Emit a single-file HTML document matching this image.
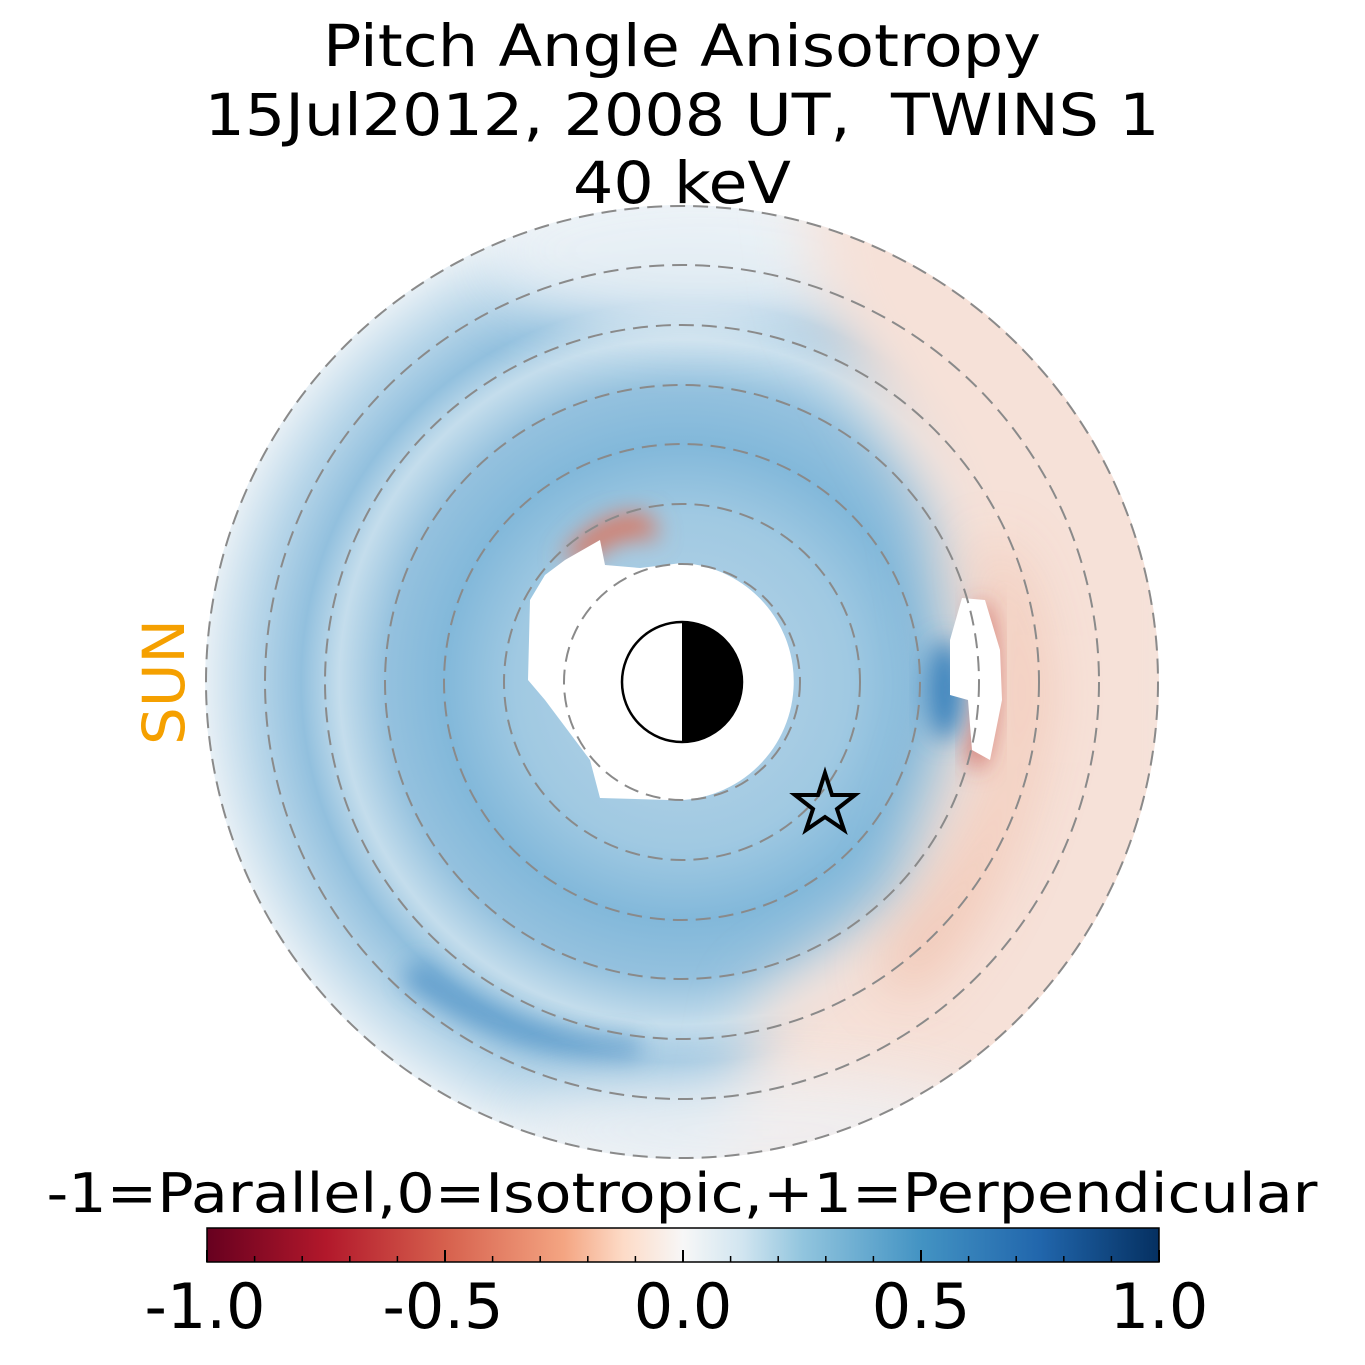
<!DOCTYPE html>
<html><head><meta charset="utf-8"><style>
html,body{margin:0;padding:0;background:#fff;}
svg{display:block;font-family:"DejaVu Sans","Liberation Sans",sans-serif;}
</style></head><body>
<svg width="1365" height="1365" viewBox="0 0 1365 1365" xmlns="http://www.w3.org/2000/svg">
<defs>
<radialGradient id="base" cx="682" cy="682" r="476" gradientUnits="userSpaceOnUse">
<stop offset="0.22" stop-color="#a9cde4"/>
<stop offset="0.35" stop-color="#a0c9e2"/>
<stop offset="0.5" stop-color="#82b8da"/>
<stop offset="0.62" stop-color="#94c1de"/>
<stop offset="0.72" stop-color="#c4ddec"/>
<stop offset="0.8" stop-color="#92c0de"/>
<stop offset="0.9" stop-color="#b8d6e9"/>
<stop offset="1" stop-color="#e6eff5"/>
</radialGradient>
<linearGradient id="cb" x1="0" x2="1" y1="0" y2="0">
<stop offset="0" stop-color="#67001f"/>
<stop offset="0.125" stop-color="#b2182b"/>
<stop offset="0.25" stop-color="#d6604d"/>
<stop offset="0.375" stop-color="#f4a582"/>
<stop offset="0.4375" stop-color="#fddbc7"/>
<stop offset="0.5" stop-color="#f7f7f7"/>
<stop offset="0.5625" stop-color="#d1e5f0"/>
<stop offset="0.625" stop-color="#92c5de"/>
<stop offset="0.75" stop-color="#4393c3"/>
<stop offset="0.875" stop-color="#2166ac"/>
<stop offset="1" stop-color="#053061"/>
</linearGradient>
<clipPath id="disk"><circle cx="682" cy="682" r="477"/></clipPath>
<filter id="b30" x="-50%" y="-50%" width="200%" height="200%"><feGaussianBlur stdDeviation="30"/></filter>
<filter id="b12" x="-50%" y="-50%" width="200%" height="200%"><feGaussianBlur stdDeviation="12"/></filter>
</defs>
<text x="682" y="66" font-size="58" text-anchor="middle" textLength="718" lengthAdjust="spacingAndGlyphs">Pitch Angle Anisotropy</text>
<text x="682" y="135" font-size="58" text-anchor="middle" textLength="955" lengthAdjust="spacingAndGlyphs" xml:space="preserve">15Jul2012, 2008 UT,  TWINS 1</text>
<text x="682" y="203" font-size="58" text-anchor="middle" textLength="218" lengthAdjust="spacingAndGlyphs">40 keV</text>

<g clip-path="url(#disk)">
<circle cx="682" cy="682" r="477" fill="url(#base)"/>
<ellipse cx="700" cy="250" rx="220" ry="80" fill="#eef3f7" filter="url(#b30)" opacity="0.85"/>
<path d="M800 150 L1200 150 L1200 1200 L720 1200 L760 1000 L900 900 L960 700 L930 500 L820 300 Z" fill="#f6e1d8" filter="url(#b30)"/>
<path d="M980 560 Q1030 680 990 800 Q950 900 880 960 L900 1000 Q1010 900 1040 700 Q1030 580 990 540 Z" fill="#eeb29a" filter="url(#b30)" opacity="0.8"/>
<path d="M985 600 Q1005 690 980 770 L968 760 Q990 690 975 610 Z" fill="#c6443c" filter="url(#b12)"/>
<ellipse cx="945" cy="690" rx="18" ry="50" fill="#3d84bd" filter="url(#b12)"/>
<path d="M420 960 Q520 1040 640 1040 L640 1060 Q510 1060 400 980 Z" fill="#4f92c6" filter="url(#b12)" opacity="0.8"/>
<ellipse cx="760" cy="1130" rx="250" ry="60" fill="#eef1f4" filter="url(#b30)" opacity="0.8"/>
<path d="M560 560 Q600 505 650 515 L660 540 Q620 530 590 560 Z" fill="#d9745e" filter="url(#b12)"/>
</g>
<path d="M682 563 A118 118 0 1 1 668 800 L600 798 L590 760 L545 700 L528 680 L530 600 L545 575 L565 560 L600 540 L605 565 L640 568 Z" fill="#fff"/>
<path d="M962 598 L985 600 L1000 650 L1002 700 L990 760 L972 750 L968 700 L950 695 L950 640 Z" fill="#fff"/>

<g fill="none" stroke="#8a8a8a" stroke-width="2" stroke-dasharray="15,8">
<circle cx="682" cy="682" r="118"/><circle cx="682" cy="682" r="178"/>
<circle cx="682" cy="682" r="238"/><circle cx="682" cy="682" r="297"/>
<circle cx="682" cy="682" r="357"/><circle cx="682" cy="682" r="417"/>
<circle cx="682" cy="682" r="476"/>
</g>
<circle cx="682" cy="682" r="60" fill="#fff"/>
<path d="M682 622 A60 60 0 0 1 682 742 Z" fill="#000"/>
<circle cx="682" cy="682" r="60" fill="none" stroke="#000" stroke-width="2.5"/>
<polygon points="825,773 832,795 855,795 837,809 844,830 825,817 806,830 813,809 795,795 818,795" fill="none" stroke="#000" stroke-width="4"/>
<text transform="translate(184,682) rotate(-90)" font-size="58" fill="#f5a000" text-anchor="middle" textLength="126" lengthAdjust="spacingAndGlyphs">SUN</text>

<text x="682" y="1212" font-size="54" text-anchor="middle" textLength="1271" lengthAdjust="spacingAndGlyphs">-1=Parallel,0=Isotropic,+1=Perpendicular</text>
<rect x="207" y="1228" width="952" height="34" fill="url(#cb)"/>
<rect x="207" y="1228" width="952" height="34" fill="none" stroke="#000" stroke-width="1.5"/>
<g stroke="#000" stroke-width="2">
<line x1="207" y1="1262" x2="207" y2="1250"/><line x1="445" y1="1262" x2="445" y2="1250"/>
<line x1="683" y1="1262" x2="683" y2="1250"/><line x1="921" y1="1262" x2="921" y2="1250"/>
<line x1="1159" y1="1262" x2="1159" y2="1250"/>
</g>
<g stroke="#000" stroke-width="1.5">
<line x1="254.6" y1="1262" x2="254.6" y2="1256"/><line x1="302.2" y1="1262" x2="302.2" y2="1256"/><line x1="349.8" y1="1262" x2="349.8" y2="1256"/><line x1="397.4" y1="1262" x2="397.4" y2="1256"/>
<line x1="492.6" y1="1262" x2="492.6" y2="1256"/><line x1="540.2" y1="1262" x2="540.2" y2="1256"/><line x1="587.8" y1="1262" x2="587.8" y2="1256"/><line x1="635.4" y1="1262" x2="635.4" y2="1256"/>
<line x1="730.6" y1="1262" x2="730.6" y2="1256"/><line x1="778.2" y1="1262" x2="778.2" y2="1256"/><line x1="825.8" y1="1262" x2="825.8" y2="1256"/><line x1="873.4" y1="1262" x2="873.4" y2="1256"/>
<line x1="968.6" y1="1262" x2="968.6" y2="1256"/><line x1="1016.2" y1="1262" x2="1016.2" y2="1256"/><line x1="1063.8" y1="1262" x2="1063.8" y2="1256"/><line x1="1111.4" y1="1262" x2="1111.4" y2="1256"/>
</g>
<g font-size="62" text-anchor="middle">
<text x="205" y="1328">-1.0</text><text x="443" y="1328">-0.5</text>
<text x="683" y="1328">0.0</text><text x="921" y="1328">0.5</text><text x="1159" y="1328">1.0</text>
</g>
</svg>
</body></html>
